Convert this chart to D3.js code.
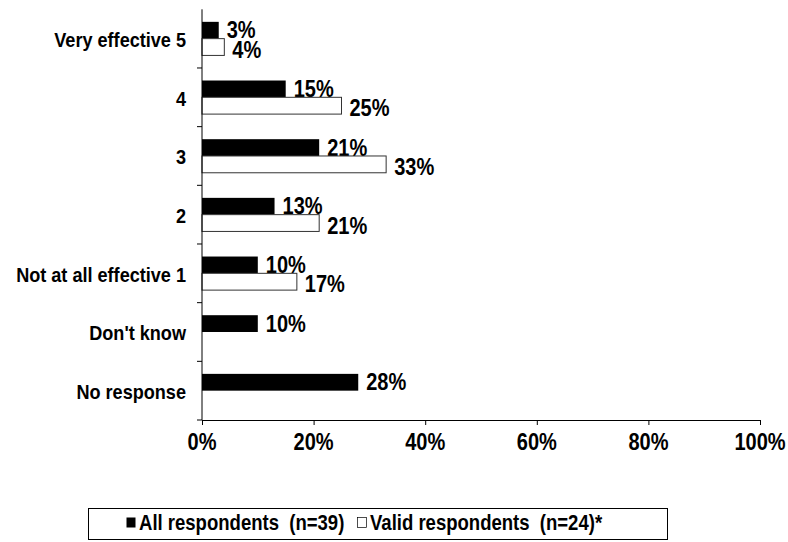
<!DOCTYPE html>
<html><head><meta charset="utf-8">
<script src="https://cdn.jsdelivr.net/npm/d3@7"></script>
<style>
body{margin:0;background:#fff;}
text{font-family:"Liberation Sans",Arial,sans-serif;font-weight:bold;fill:#000;}
</style></head>
<body><svg id="c" width="788" height="542"></svg>
<script>
const categories = ["Very effective 5","4","3","2","Not at all effective 1","Don't know","No response"];
const allRespondents = [3,15,21,13,10,10,28];
const validRespondents = [4,25,33,21,17,null,null];
const xTicks = [0,20,40,60,80,100];
const seriesNames = ["All respondents  (n=39)","Valid respondents  (n=24)*"];

const svg = d3.select("#c");
const x = d3.scaleLinear().domain([0,100]).range([202,760]);
const y = d3.scaleBand().domain(categories).range([9.3,420]).padding(0);
const keys = ["all","valid"];
const inner = d3.scaleBand().domain(keys).range([0,y.bandwidth()]).paddingInner(0).paddingOuter(0.747);

const rows = categories.map((c,i)=>({cat:c, all:allRespondents[i], valid:validRespondents[i]}));

// bars
const g = svg.append("g");
rows.forEach(r=>{
  keys.forEach(k=>{
    if(r[k]==null) return;
    g.append("rect")
      .attr("x", x(0)).attr("y", y(r.cat)+inner(k))
      .attr("width", x(r[k])-x(0)).attr("height", inner.bandwidth())
      .attr("fill", k==="all"?"#000":"#fff")
      .attr("stroke", k==="all"?"none":"#333").attr("stroke-width",1);
    g.append("text")
      .attr("transform",`translate(${x(r[k])+8},${y(r.cat)+inner(k)+inner.bandwidth()/2+(k==="all"?0:2.5)}) scale(0.87,1)`)
      .attr("dominant-baseline","central")
      .style("font-size","23px")
      .text(r[k]+"%");
  });
});

// x axis
const xa = svg.append("g").attr("transform","translate(0,420)")
  .call(d3.axisBottom(x).tickValues(xTicks).tickFormat(()=>"" ).tickSize(5).tickSizeOuter(0));
xa.select(".domain").attr("stroke","#000");
xa.selectAll(".tick line").attr("stroke","#000");
xTicks.forEach(v=>{
  svg.append("text")
    .attr("transform",`translate(${x(v)},442) scale(0.87,1)`)
    .attr("text-anchor","middle").attr("dominant-baseline","central")
    .style("font-size","23px").text(v+"%");
});

// y axis
const ya = svg.append("g").attr("transform","translate(202,0)");
ya.append("line").attr("x1",0).attr("x2",0).attr("y1",9.3).attr("y2",420).attr("stroke","#000");
const bounds = categories.map(c=>y(c)+y.bandwidth()).slice(0,-1).concat([420]);
bounds.forEach(b=>{
  ya.append("line").attr("x1",-5).attr("x2",0).attr("y1",b).attr("y2",b).attr("stroke","#000");
});
categories.forEach(c=>{
  svg.append("text")
    .attr("transform",`translate(186,${y(c)+y.bandwidth()/2+1}) scale(0.87,1)`)
    .attr("text-anchor","end").attr("dominant-baseline","central")
    .style("font-size","20.8px").text(c);
});

// legend
const lg = svg.append("g");
lg.append("rect").attr("x",88.5).attr("y",508.5).attr("width",579).attr("height",31)
  .attr("fill","#fff").attr("stroke","#000");
const legItems = [{name:seriesNames[0],fill:"#000",x:126},{name:seriesNames[1],fill:"#fff",x:357}];
legItems.forEach(it=>{
  lg.append("rect").attr("x",it.x+0.5).attr("y",517.5).attr("width",9).attr("height",10)
    .attr("fill",it.fill).attr("stroke","#000").attr("stroke-width",it.fill==="#fff"?0.7:0);
  lg.append("text")
    .attr("transform",`translate(${it.x+13},523) scale(0.87,1)`)
    .attr("dominant-baseline","central")
    .style("font-size","21.3px").attr("xml:space","preserve").text(it.name);
});
</script></body></html>
